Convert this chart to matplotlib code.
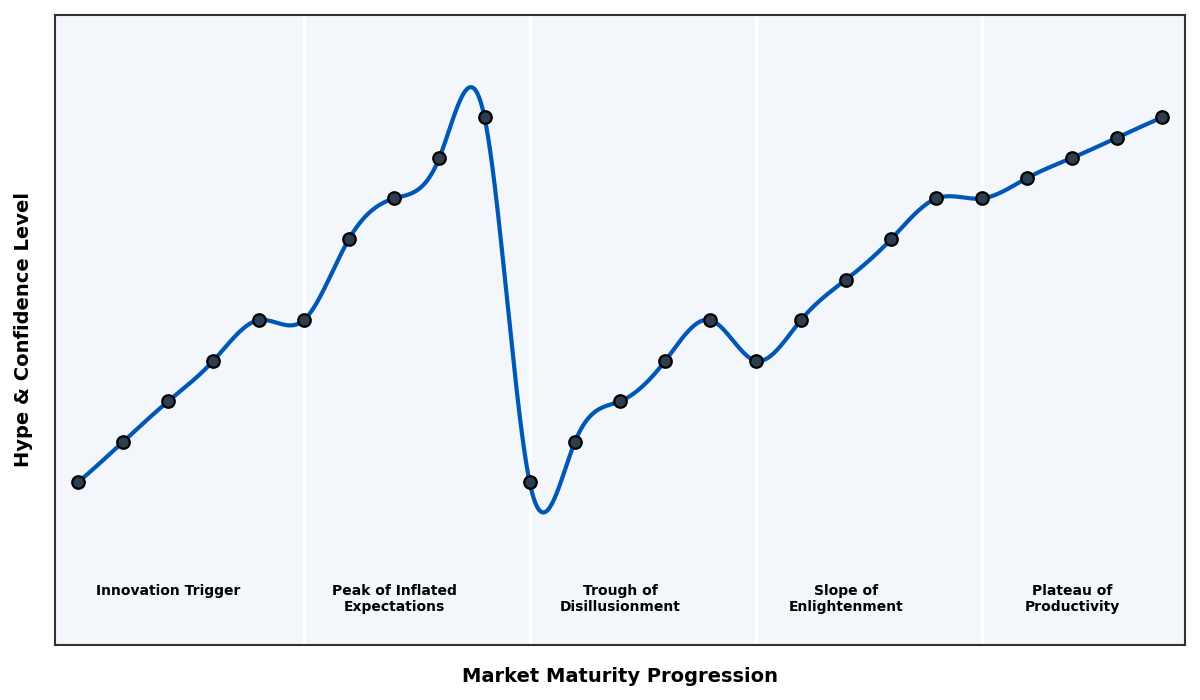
import numpy as np
import matplotlib
matplotlib.use("Agg")
import matplotlib.pyplot as plt

x_vals = list(range(25))
hype = [1, 2, 3, 4, 5, 5, 7, 8, 9, 10,
        1, 2, 3, 4, 5, 4, 5, 6, 7, 8,
        8, 8.5, 9, 9.5, 10]
phase_labels = ["Innovation Trigger", "Peak of Inflated\nExpectations",
                "Trough of\nDisillusionment", "Slope of\nEnlightenment",
                "Plateau of\nProductivity"]
phase_bounds = [5, 10, 15, 20]
phase_centers = [2, 7, 12, 17, 22]


def cubic_spline(x, y, xs):
    x = np.asarray(x, float)
    y = np.asarray(y, float)
    n = len(x)
    h = np.diff(x)
    d = np.diff(y) / h
    A = np.zeros((n, n))
    b = np.zeros(n)
    # not-a-knot
    A[0, 0] = h[1]; A[0, 1] = -(h[0] + h[1]); A[0, 2] = h[0]
    A[-1, -3] = h[-1]; A[-1, -2] = -(h[-2] + h[-1]); A[-1, -1] = h[-2]
    for i in range(1, n - 1):
        A[i, i - 1] = h[i - 1]
        A[i, i] = 2 * (h[i - 1] + h[i])
        A[i, i + 1] = h[i]
        b[i] = 6 * (d[i] - d[i - 1])
    M = np.linalg.solve(A, b)
    idx = np.clip(np.searchsorted(x, xs) - 1, 0, n - 2)
    x0 = x[idx]; x1 = x[idx + 1]; hh = x1 - x0
    t0 = x1 - xs; t1 = xs - x0
    return (M[idx] * t0**3 / (6 * hh) + M[idx + 1] * t1**3 / (6 * hh)
            + (y[idx] / hh - M[idx] * hh / 6) * t0
            + (y[idx + 1] / hh - M[idx + 1] * hh / 6) * t1)


fig = plt.figure(figsize=(12, 7), dpi=100)
ax = fig.add_axes([0.046, 0.079, 0.9415, 0.9])
ax.set_facecolor("#f3f6fa")

xs = np.linspace(x_vals[0], x_vals[-1], 1000)
ys = cubic_spline(x_vals, hype, xs)

for xb in phase_bounds:
    ax.axvline(xb, color="white", lw=2.2, zorder=1)

ax.plot(xs, ys, color="#0057b7", lw=3, zorder=2)
ax.plot(x_vals, hype, "o", color="#2c3e50", markeredgecolor="black",
        markeredgewidth=1.6, markersize=9, zorder=3)

for xc, lab in zip(phase_centers, phase_labels):
    ax.text(xc, 0.096, lab, transform=ax.get_xaxis_transform(),
            ha="center", va="top", fontsize=10, fontweight="bold",
            color="black", linespacing=1.2)

ax.set_xlim(-0.5, 24.5)
ax.set_ylim(-3.0, 12.53)
ax.set_xticks([])
ax.set_yticks([])
for s in ax.spines.values():
    s.set_color("#333333")
    s.set_linewidth(1.5)
ax.set_xlabel("Market Maturity Progression", fontsize=14, fontweight="bold", labelpad=16)
ax.set_ylabel("Hype & Confidence Level", fontsize=14, fontweight="bold", labelpad=16)

fig.savefig("out.png", dpi=100)
